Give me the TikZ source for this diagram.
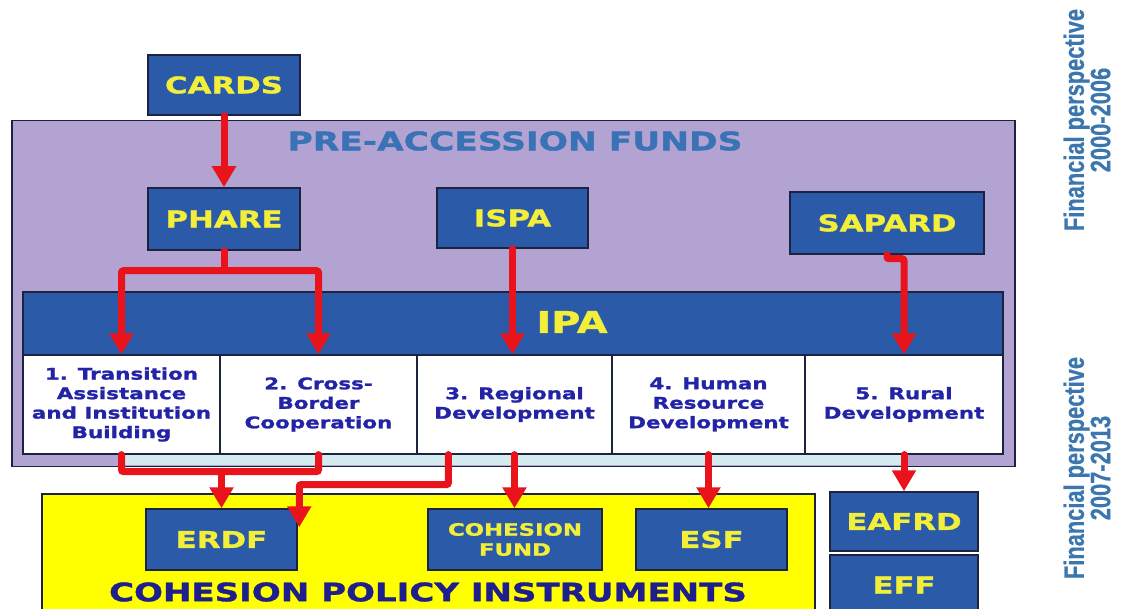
\documentclass[tikz,border=0pt]{standalone}
\usepackage{fontspec}
\setmainfont{DejaVu Sans}
\newfontfamily\widefont{DejaVu Sans}[FakeStretch=1.34, FakeBold=1.3]
\newfontfamily\sidefont{Liberation Sans}[FakeStretch=0.78, FakeBold=0.6]
\usetikzlibrary{arrows.meta,calc}

\definecolor{fundblue}{HTML}{2B5BA8}
\definecolor{edge}{HTML}{1C2340}
\definecolor{labelyellow}{HTML}{F2EE3A}
\definecolor{prepurple}{HTML}{B3A3D3}
\definecolor{stripcyan}{HTML}{D4ECEF}
\definecolor{arrowred}{HTML}{E8131B}
\definecolor{titleblue}{HTML}{3A72B6}
\definecolor{celltext}{HTML}{2323A6}
\definecolor{navy}{HTML}{1E1E8C}
\definecolor{sideblue}{HTML}{3B77AE}
\definecolor{cohyellow}{HTML}{FFFF00}

\tikzset{
  fund/.style={draw=edge, line width=1.5pt, fill=fundblue, text=labelyellow,
    font=\widefont\bfseries\fontsize{23}{25}\selectfont, inner sep=0pt,
    minimum width=151, minimum height=61},
  smallfund/.style={fund, font=\widefont\bfseries\fontsize{17}{20}\selectfont, align=center},
  cell/.style={draw=edge, line width=1.2pt, fill=white, text=celltext,
    font=\widefont\bfseries\fontsize{16}{19.5}\selectfont, align=center,
    inner sep=0pt, minimum height=99},
  redline/.style={draw=arrowred, line width=7pt, rounded corners=2pt, line cap=round},
  arr/.style={redline, -{Triangle[width=23pt,length=21pt]}},
  sidetext/.style={text=sideblue, rotate=90, align=center,
    font=\sidefont\bfseries\fontsize{28}{25}\selectfont, inner sep=0pt},
}

\begin{document}
\begin{tikzpicture}[x=1pt,y=-1pt]
\useasboundingbox (0,0) rectangle (1122,609);
\clip (0,0) rectangle (1122,609);
\fill[white] (0,0) rectangle (1122,609);

% pre-accession frame and the light strip under the IPA components
\node (pre) [draw=edge, line width=1.5pt, fill=prepurple, minimum width=1003,
  minimum height=346, inner sep=0pt] at (513.5,293.5) {};
\fill[stripcyan] (120,455) rectangle (907,465.3);
\node (pretitle) [text=titleblue, font=\widefont\bfseries\fontsize{25.7}{28}\selectfont]
  at (515,141) {PRE-ACCESSION FUNDS};

% old instruments
\node (cards) [fund, minimum width=152, minimum height=60] at (224,85) {CARDS};
\node (phare) [fund, minimum width=152, minimum height=62] at (224,219) {PHARE};
\node (ispa) [fund, minimum height=60] at (512.5,218) {ISPA};
\node (sapard) [fund, minimum width=194, minimum height=62] at (887,223) {SAPARD};

% IPA bar with its five components
\node (ipa) [draw=edge, line width=1.5pt, fill=fundblue, minimum width=980,
  minimum height=63, inner sep=0pt] at (513,323.5) {};
\node (ipatext) [text=labelyellow, font=\widefont\bfseries\fontsize{29.7}{32}\selectfont]
  at (572,322) {IPA};
\node (c1) [cell, minimum width=197] at (121.5,404.5) {1. Transition\\Assistance\\and Institution\\Building};
\node (c2) [cell, minimum width=197] at (318.5,404.5) {2. Cross-\\Border\\Cooperation};
\node (c3) [cell, minimum width=195] at (514.5,404.5) {3. Regional\\Development};
\node (c4) [cell, minimum width=193] at (708.5,404.5) {4. Human\\Resource\\Development};
\node (c5) [cell, minimum width=198] at (904,404.5) {5. Rural\\Development};

% cohesion policy instruments
\node (cpi) [draw=edge, line width=1.5pt, fill=cohyellow, minimum width=773,
  minimum height=122, inner sep=0pt] at (428.5,555) {};
\node (cpititle) [text=navy, font=\widefont\bfseries\fontsize{25.4}{28}\selectfont]
  at (428,592) {COHESION POLICY INSTRUMENTS};
\node (erdf) [fund] at (221.5,539.5) {ERDF};
\node (cohfund) [smallfund, minimum width=174] at (515,539.5) {COHESION\\FUND};
\node (esf) [fund] at (711.5,539.5) {ESF};
\node (eafrd) [fund, minimum width=148, minimum height=59] at (904,521.5) {EAFRD};
\node (eff) [fund, minimum width=148, minimum height=60] at (904,585) {EFF};

% financial perspectives
\node (fp1) [sidetext] at (1087,120) {Financial perspective\\2000-2006};
\node (fp2) [sidetext] at (1087,468) {Financial perspective\\2007-2013};

% flows into IPA
\draw[arr] (cards.south) -- (phare.north);
\draw[redline] (phare.south) -- ++(0,20) coordinate (split);
\draw[arr] (split) -| (c1.north);
\draw[arr] (split) -| (c2.north);
\draw[arr] (ispa.south) -- (ispa.south |- c3.north);
\draw[arr] (sapard.south) -- ++(0,4) -| (c5.north);

% flows into the structural funds
\draw[redline] (c1.south) -- ++(0,17) coordinate (merge) -| (c2.south);
\draw[arr] (erdf.north |- merge) -- (erdf.north);
\draw[arr] ($(c3.south west)+(32,0)$) -- ++(0,30) -| ($(erdf.north east)+(1.5,19)$);
\draw[arr] (c3.south) -- (c3.south |- cohfund.north);
\draw[arr] (c4.south) -- (c4.south |- esf.north);
\draw[arr] (c5.south) -- (c5.south |- eafrd.north);
\end{tikzpicture}
\end{document}
